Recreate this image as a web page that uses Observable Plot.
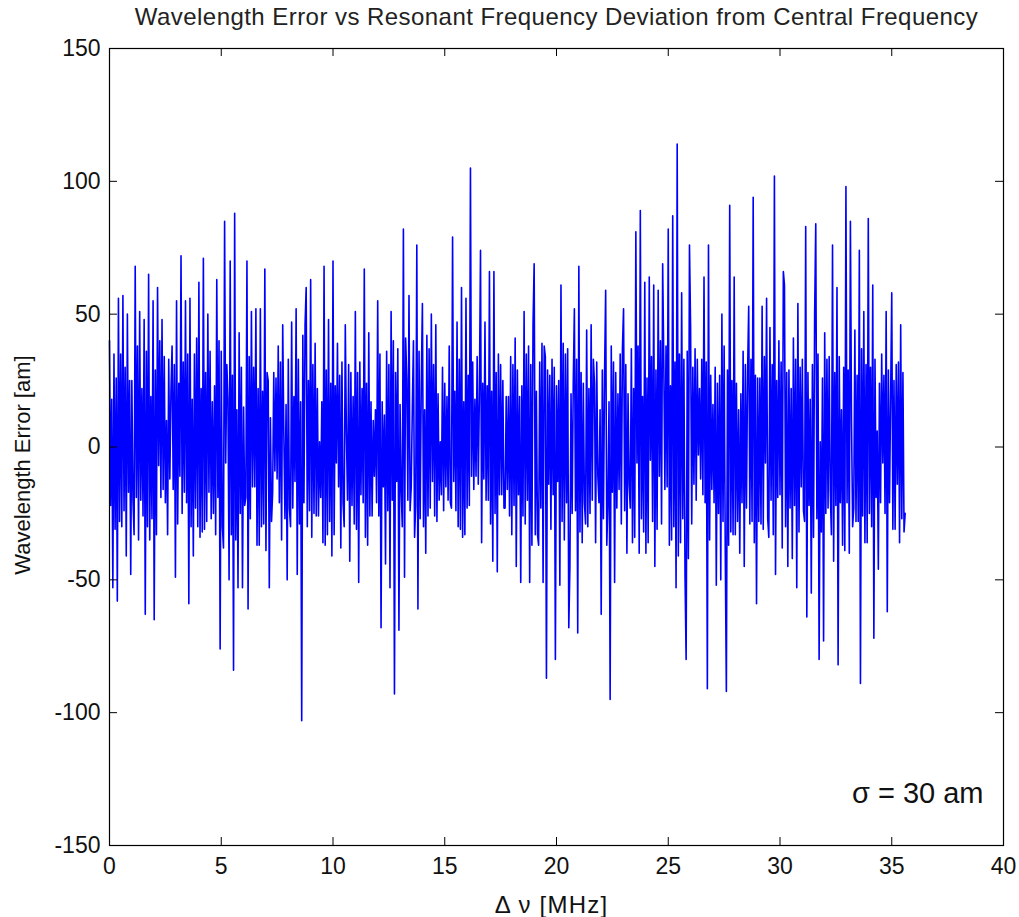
<!DOCTYPE html>
<html>
<head>
<meta charset="utf-8">
<script src="https://cdn.jsdelivr.net/npm/d3@7"></script>
<script src="https://cdn.jsdelivr.net/npm/@observablehq/plot@0.6"></script>
<style>
  html, body { margin: 0; padding: 0; background: #fff; }
  #chart svg { display: block; }
</style>
</head>
<body>
<div id="chart"></div>
<script>
// ---- Data ----
const titleText = "Wavelength Error vs Resonant Frequency Deviation from Central Frequency";
const xLabel = "\u0394 \u03bd [MHz]";
const yLabel = "Wavelength Error [am]";
const noteText = "\u03c3 = 30 am";

const xTicks = [0, 5, 10, 15, 20, 25, 30, 35, 40];
const yTicks = [-150, -100, -50, 0, 50, 100, 150];

// sampling grid of the frequency deviation (MHz)
const freqStart = 0;
const freqStep = 0.05;

// wavelength error (am): the large excursions (strokes), 0 .. 35.6 MHz
const errSeg1 = [40, -53, 35, -58, 56, -30, 57, -41, 50, -48, 25, 68, -19, 51, -20, 48, -63, 65, -35, 55, -65, 60, -7, 48, -16, 10, -33, 21, 38, -49, 55, -11, 72, -17, 55, -59, 56, -41, 35, -30, 62, -32, 71];
const errSeg2 = [-28, 50, -27, 17, -33, 63, -76, 36, 85, -6, -50, 70, -84, 88, -53, 43, -53, 15, 70, -61, 51, -15, 52, -37, 52, -30, 67, -39, -53, 11, 28, -9, 38, -21, 46, 5, -50, 33, 47, -23, 52, -48, 17, -103, 46, 60];
const errSeg3 = [-24, 63, -25, 39, -26, 2, -36, 68, -33, 48, -41, 70, -6, 39, -38, 32, 46, 5, -43, 28, -29, 51, -51, 32, -21, 67, -37, 43, -26, 10, -21, 55, -68, 17, -44, 36, -53, 51, -93, 28, -69, 16, 82, -49];
const errSeg4 = [-20, 57, 15, 40, 76, -61, 24, 54, -40, 42, -23, 50, -26, 46, -20, 2, -24, 24, -20, 38, 79, -13, 47, -30, 60, -34, 56, -23, 105, -11, 18, -11, 20, 74, -12, 47, -20, 66, -43, 66, -47, 35, -18, 25];
const errSeg5 = [19, -16, 34, -33, 41, -45, 19, -51, 51, -29, 38, -51, 46, 69, -33, -37, 39, -51, -87, 29, -31, 33, -80, 23, -52, 61, -35, 35, -68, -45, 24, 52, -70, 68, -36, 24, 44, -30, 46, -20, -36, 32, 14, -63, 27];
const errSeg6 = [59, 17, -95, 32, -51, 20, -16, 37, 52, -40, 20, 37, -36, 81, -6, 89, -27, 62, -40, 64, -5, 61, -45, 59, -11, 69, 32, -15, 82, -35, 87, -53, 114, -36, 58, -48, -80, 76, 45, -14, 37, -3, 22, -18, 64];
const errSeg7 = [-91, 76, -16, 16, -52, 24, -50, 50, -38, -92, 91, -32, 64, -33, 14, -40, 36, -45, 28, 53, -28, 94, -59, 26, -29, 53, -6, 56, 45, -20, 102, -48, 40, -18, 66, 61, -45, 29, -42, 41, -53, 54, -15, 33, 83];
const errSeg8 = [-64, 18, -55, 50, 84, -80, 2, -73, 43, -23, 34, 76, -43, 60, -82, 14, -37, 98, -21, 85, 10, 44, -28, 74, -89, 51, -36, 86, -25, 61, -72, 6, -46, 35, -6, 51, -62, 19, 58, -31, 31, -36, 46, -32, -25];

// wavelength error (am): the smaller swings inside the dense core, one after each stroke
const midSeg1 = [-22, 18, -31, 26, -28, 35, -24, 30, -17, 25, -20, -33, 38, -35, 22, -26, 36, -30, 19, -27, 29, -33, 40, -19, 34, -21, 33, -12, -16, 31, -29, 24, -25, 32, -21, 35, -30, 18, -23, 41, -34, 22, -31];
const midSeg2 = [28, -17, 36, -25, 23, -19, 40, -30, -38, 31, 18, -33, 27, -35, 14, -25, 30, -22, -19, 34, -27, 30, -15, 22, -37, 21, -29, 28, 25, -28, -17, 26, -12, 32, -35, -27, 16, -23, -30, 19, -13, 33, -29, 42, -21, -30];
const midSeg3 = [25, -34, 31, -26, 22, -19, 17, -37, 29, -28, 24, -33, 23, -15, 27, -21, -30, -20, 31, -22, 19, -31, 28, -18, 22, -34, 24, -26, 17, -11, 14, -26, 35, -15, 12, -24, 31, -20, 40, -13, 37, -16, -30, 41];
const midSeg4 = [26, -24, -15, -34, -22, 36, -27, -30, 14, -26, 37, -13, 31, -28, 20, -18, 30, -15, 19, -21, -23, 21, -24, 33, -31, 17, -33, 27, -22, 32, -16, 34, -14, -36, 24, -20, 23, -29, 21, -25, 28, -18, 31, -23];
const midSeg5 = [-23, 19, -26, 31, -22, 29, -18, 23, -26, 35, -20, 31, -37, -33, 21, 32, -23, 38, 34, -14, 27, -18, 30, -13, 25, -28, 39, -21, 37, 20, -25, -24, 33, -32, 28, -21, -29, 22, -25, 33, 24, -11, -21, 29, -27];
const midSeg6 = [-37, -21, 38, -17, 28, -23, 35, -29, -24, 31, -14, -23, 22, -34, 38, -40, 19, -32, 26, -36, 34, -28, 29, -31, 40, -29, -16, 38, -37, 23, -30, 32, -41, 35, -27, 33, 36, -42, -29, 30, -20, 33, -12, 33, -21];
const midSeg7 = [32, -35, 27, -21, 30, -25, 27, -28, 38, 29, -37, 25, -33, 24, -28, 20, -21, 31, -23, -29, 33, -36, 27, -28, 26, -31, 34, -27, -34, 31, -33, 25, -19, 32, -38, -30, 28, -23, 22, -22, 33, -32, 30, -24, -28];
const midSeg8 = [28, -22, 31, -34, -27, 35, -32, 26, -25, 33, -17, -33, 28, -22, 34, -21, 30, -39, 29, -40, -30, -23, 27, -28, 37, -26, 31, -36, 30, -30, 33, -19, 24, -21, 27, -25, 29, -21, -31, 25, -14, 32, -27, 28];

const errMain = [].concat(errSeg1, errSeg2, errSeg3, errSeg4, errSeg5, errSeg6, errSeg7, errSeg8);
const errMid = [].concat(midSeg1, midSeg2, midSeg3, midSeg4, midSeg5, midSeg6, midSeg7, midSeg8);

// order the samples in time: stroke, core swing, core swing, stroke, ...
const seq = [];
for (let i = 0; i < errMain.length; i += 2) {
  seq.push(errMain[i]);
  if (i < errMid.length) seq.push(errMid[i]);
  if (i + 1 < errMid.length) seq.push(errMid[i + 1]);
  if (i + 1 < errMain.length) seq.push(errMain[i + 1]);
}
const data = seq.map((v, p) => ({f: +(freqStart + p * freqStep).toFixed(3), err: v}));

// ---- Layout ----
const W = 1019, H = 917;
const mL = 109, mR = 16, mT = 48, mB = 72;
const innerW = W - mL - mR, innerH = H - mT - mB;
const tickLen = 8;
const font = "'Liberation Sans', Arial, Helvetica, sans-serif";
const fmt = d => String(d);

const chart = Plot.plot({
  width: W,
  height: H,
  marginLeft: mL,
  marginRight: mR,
  marginTop: mT,
  marginBottom: mB,
  style: {fontFamily: font, fontSize: "23px", background: "#fff", color: "#000"},
  x: {domain: [0, 40], label: null},
  y: {domain: [-150, 150], label: null},
  marks: [
    Plot.line(data, {x: "f", y: "err", stroke: "#0000ff", strokeWidth: 1.6}),
    Plot.frame({stroke: "#000", strokeWidth: 1.2}),
    // inward ticks on all four sides
    Plot.tickX(xTicks, {x: d => d, insetTop: innerH - tickLen, stroke: "#000"}),
    Plot.tickX(xTicks, {x: d => d, insetBottom: innerH - tickLen, stroke: "#000"}),
    Plot.tickY(yTicks, {y: d => d, insetRight: innerW - tickLen, stroke: "#000"}),
    Plot.tickY(yTicks, {y: d => d, insetLeft: innerW - tickLen, stroke: "#000"}),
    Plot.axisX(xTicks, {tickSize: 0, tickPadding: 12, fontSize: 23, label: null, fill: "#111", tickFormat: fmt}),
    Plot.axisY(yTicks, {tickSize: 0, tickPadding: 9, fontSize: 23, label: null, fill: "#111", tickFormat: fmt}),
    // title
    Plot.text([titleText], {frameAnchor: "top", dy: -41, fontSize: 24, fill: "#222", text: d => d}),
    // axis labels
    Plot.text([xLabel], {frameAnchor: "bottom", dx: -5, dy: 67, fontSize: 24, fill: "#111", text: d => d}),
    Plot.text([yLabel], {frameAnchor: "left", textAnchor: "middle", dx: -87, dy: 18, rotate: -90, fontSize: 22, fill: "#111", text: d => d}),
    // annotation
    Plot.text([noteText], {frameAnchor: "bottom-right", dx: -20, dy: -43, textAnchor: "end", fontSize: 29, fill: "#111", text: d => d})
  ]
});

// slight letter spacing for the title and x label, as in the reference
d3.select(chart).selectAll("text").filter(function() { return this.textContent === titleText; })
  .attr("letter-spacing", "0.45px");
d3.select(chart).selectAll("text").filter(function() { return this.textContent === xLabel; })
  .attr("letter-spacing", "1.2px");

document.getElementById("chart").appendChild(chart);
</script>
</body>
</html>
